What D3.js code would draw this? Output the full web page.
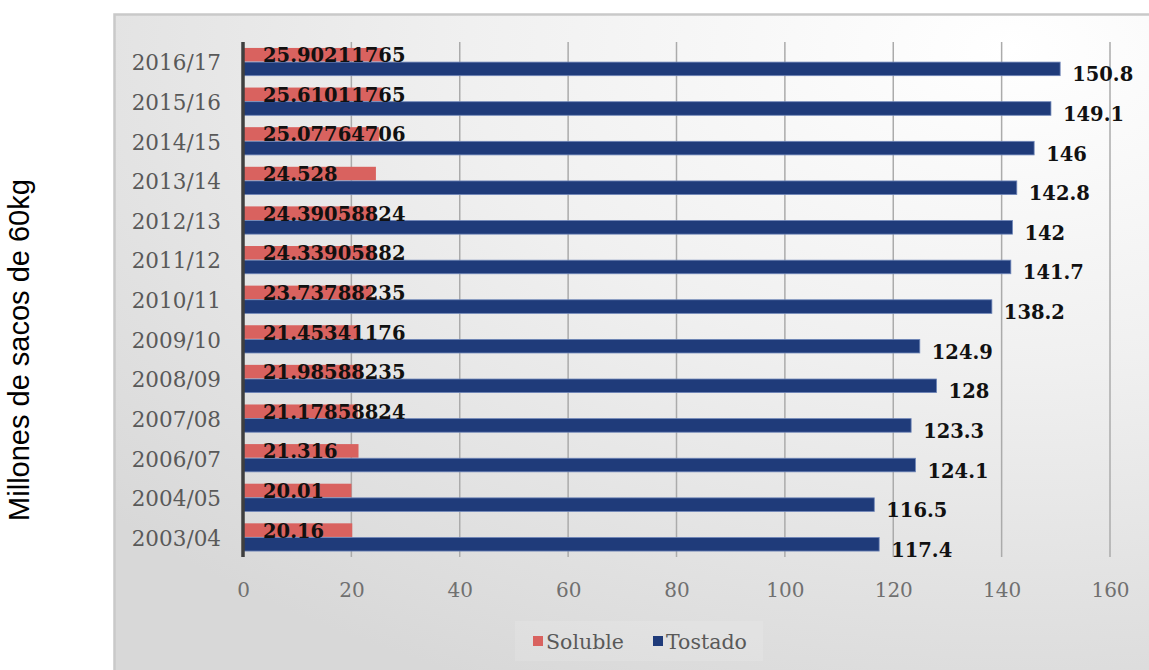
<!DOCTYPE html>
<html>
<head>
<meta charset="utf-8">
<script src="https://cdn.jsdelivr.net/npm/d3@7/dist/d3.min.js"></script>
<style>
  html, body { margin: 0; padding: 0; background: #ffffff; }
  svg { display: block; }
</style>
</head>
<body>
<svg id="chart" width="1149" height="670"></svg>
<script>
// Coffee consumption by season, millions of 60 kg bags
const seasons = ["2016/17", "2015/16", "2014/15", "2013/14", "2012/13", "2011/12", "2010/11",
                 "2009/10", "2008/09", "2007/08", "2006/07", "2004/05", "2003/04"];
const soluble = [25.90211765, 25.61011765, 25.07764706, 24.528, 24.39058824, 24.33905882, 23.73788235,
                 21.45341176, 21.98588235, 21.17858824, 21.316, 20.01, 20.16];
const tostado = [150.8, 149.1, 146, 142.8, 142, 141.7, 138.2, 124.9, 128, 123.3, 124.1, 116.5, 117.4];
const seriesNames = ["Soluble", "Tostado"];
const xTicks = [0, 20, 40, 60, 80, 100, 120, 140, 160];

const colors = { Soluble: "#d9625f", Tostado: "#1f3b7a" };

const svg = d3.select("#chart");
const W = 1149, H = 670;

// Panel background with soft gradient
const defs = svg.append("defs");
const grad = defs.append("radialGradient")
  .attr("id", "panelGrad")
  .attr("cx", "0.78").attr("cy", "0.05").attr("r", "1.05")
  .attr("fx", "0.78").attr("fy", "0.05");
grad.append("stop").attr("offset", "0").attr("stop-color", "#ffffff");
grad.append("stop").attr("offset", "0.45").attr("stop-color", "#f0f0f0");
grad.append("stop").attr("offset", "1").attr("stop-color", "#d8d8d8");

svg.append("rect")
  .attr("x", 114.5).attr("y", 14.5)
  .attr("width", W).attr("height", H)
  .attr("fill", "url(#panelGrad)")
  .attr("stroke", "#c9c9c9").attr("stroke-width", 2.5);

// Scales
const x = d3.scaleLinear().domain([0, 160]).range([243, 1110]);
const y = d3.scaleBand().domain(seasons).range([42, 557]).paddingInner(0.3).paddingOuter(0.15);
const ySub = d3.scaleBand().domain(seriesNames).range([0, y.bandwidth()]).paddingInner(0.04);

// Vertical gridlines
svg.append("g")
  .selectAll("line")
  .data(xTicks.filter(t => t > 0))
  .join("line")
  .attr("x1", d => x(d)).attr("x2", d => x(d))
  .attr("y1", 42).attr("y2", 557)
  .attr("stroke", "#ababab").attr("stroke-width", 1.5);

// Bars
const rows = seasons.map((s, i) => ({ season: s, Soluble: soluble[i], Tostado: tostado[i] }));
const groups = svg.append("g").selectAll("g")
  .data(rows)
  .join("g")
  .attr("transform", d => `translate(0,${y(d.season)})`);

groups.append("rect")
  .attr("x", x(0))
  .attr("y", ySub("Soluble"))
  .attr("width", d => x(d.Soluble) - x(0))
  .attr("height", ySub.bandwidth())
  .attr("fill", colors.Soluble);

groups.append("rect")
  .attr("x", x(0))
  .attr("y", ySub("Tostado"))
  .attr("width", d => x(d.Tostado) - x(0))
  .attr("height", ySub.bandwidth())
  .attr("fill", colors.Tostado)
  .attr("stroke", "#6f86b8").attr("stroke-width", 0.8);

// Value axis line at zero
svg.append("line")
  .attr("x1", x(0)).attr("x2", x(0))
  .attr("y1", 42).attr("y2", 557)
  .attr("stroke", "#3f3f3f").attr("stroke-width", 3.5);

// Data labels
const labelFont = "'DejaVu Serif', serif";
groups.append("text")
  .attr("x", x(0) + 20)
  .attr("y", ySub("Soluble") + ySub.bandwidth() / 2 + 1)
  .attr("dominant-baseline", "central")
  .attr("font-family", labelFont).attr("font-weight", "bold").attr("font-size", 19.5)
  .attr("fill", "#111")
  .text(d => d.Soluble);

groups.append("text")
  .attr("x", d => x(d.Tostado) + 12)
  .attr("y", ySub("Tostado") + ySub.bandwidth() / 2 + 6)
  .attr("dominant-baseline", "central")
  .attr("font-family", labelFont).attr("font-weight", "bold").attr("font-size", 19.5)
  .attr("fill", "#111")
  .text(d => d.Tostado);

// Category axis labels
const yAxis = d3.axisLeft(y).tickSize(0).tickPadding(20);
const gy = svg.append("g").attr("transform", `translate(${x(0) - 2},0)`).call(yAxis);
gy.select(".domain").remove();
gy.selectAll("text")
  .attr("font-family", labelFont).attr("font-size", 21.5)
  .attr("fill", "#595959")
  .attr("dy", "0.4em");

// Value axis tick labels
const xAxis = d3.axisBottom(x).tickValues(xTicks).tickSize(0).tickPadding(0).tickFormat(d3.format("d"));
const gx = svg.append("g").attr("transform", `translate(0,583)`).call(xAxis);
gx.select(".domain").remove();
gx.selectAll("text")
  .attr("font-family", labelFont).attr("font-size", 20)
  .attr("fill", "#707070");

// Legend
const legend = svg.append("g").attr("transform", "translate(515,621)");
legend.append("rect")
  .attr("x", 0).attr("y", 0).attr("width", 248).attr("height", 40)
  .attr("fill", "#ffffff").attr("opacity", 0.12);
const legendItems = [{ name: "Soluble", x: 18 }, { name: "Tostado", x: 138 }];
const li = legend.selectAll("g.item").data(legendItems).join("g")
  .attr("class", "item")
  .attr("transform", d => `translate(${d.x},0)`);
li.append("rect")
  .attr("x", 0).attr("y", 15).attr("width", 10).attr("height", 10)
  .attr("fill", d => colors[d.name]);
li.append("text")
  .attr("x", 13).attr("y", 21)
  .attr("dominant-baseline", "central")
  .attr("font-family", labelFont).attr("font-size", 20.5)
  .attr("fill", "#595959")
  .text(d => d.name);

// Vertical title outside the panel
svg.append("text")
  .attr("transform", "translate(19,350) rotate(-90)")
  .attr("text-anchor", "middle")
  .attr("dominant-baseline", "central")
  .attr("font-family", "'Liberation Sans', Arial, sans-serif")
  .attr("font-size", 29)
  .attr("fill", "#000")
  .text("Millones de sacos de 60kg");
</script>
</body>
</html>
